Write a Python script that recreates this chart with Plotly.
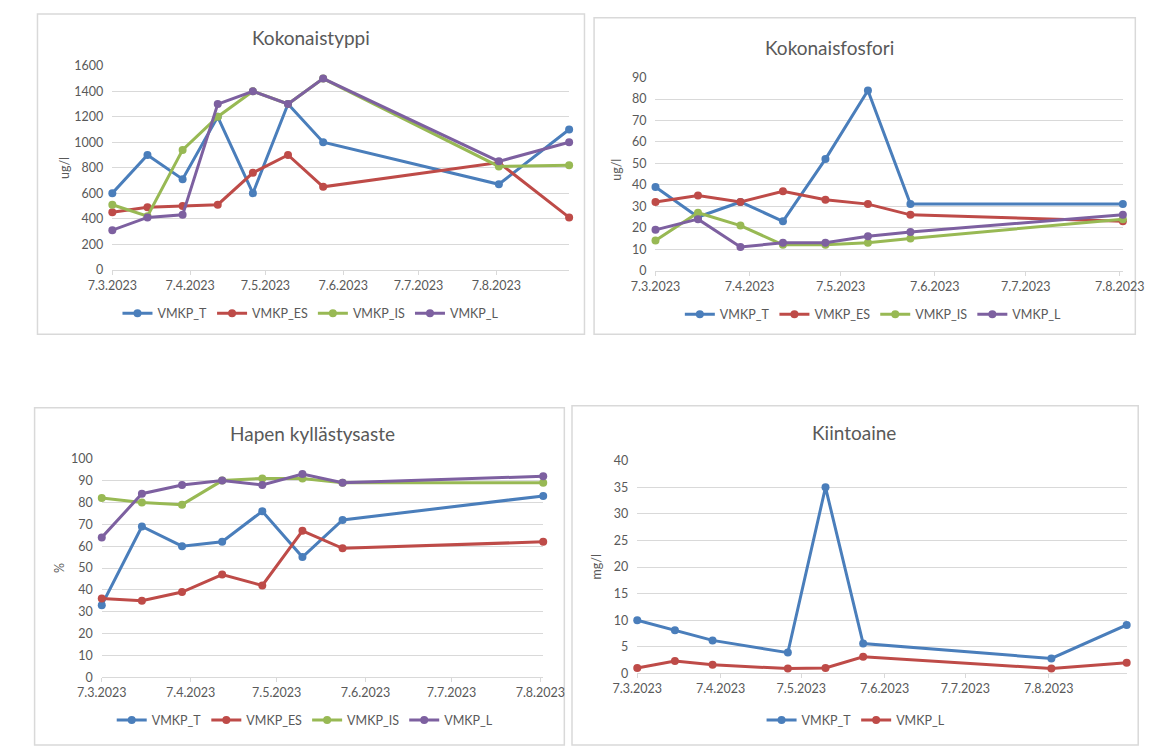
import plotly.graph_objects as go

W, H = 1165, 746

# ---- data -------------------------------------------------------------
dates_n = ["2023-03-07", "2023-03-21", "2023-04-04", "2023-04-18", "2023-05-02",
           "2023-05-16", "2023-05-30", "2023-08-08", "2023-09-05"]
dates_p = dates_n[:8]
dates_o2 = dates_n[:8]
dates_ss = ["2023-03-07", "2023-03-21", "2023-04-04", "2023-05-02",
            "2023-05-16", "2023-05-30", "2023-08-08", "2023-09-05"]

# Kokonaistyppi (ug/l)
n_T = [600, 900, 710, 1200, 600, 1300, 1000, 670, 1100]
n_ES = [450, 490, 500, 510, 760, 900, 650, 840, 410]
n_IS = [510, 420, 940, 1200, 1400, 1300, 1500, 810, 820]
n_L = [310, 410, 430, 1300, 1400, 1300, 1500, 850, 1000]

# Kokonaisfosfori (ug/l)
p_T = [39, 25, 32, 23, 52, 84, 31, 31]
p_ES = [32, 35, 32, 37, 33, 31, 26, 23]
p_IS = [14, 27, 21, 12, 12, 13, 15, 24]
p_L = [19, 24, 11, 13, 13, 16, 18, 26]

# Hapen kyllästysaste (%)
o_T = [33, 69, 60, 62, 76, 55, 72, 83]
o_ES = [36, 35, 39, 47, 42, 67, 59, 62]
o_IS = [82, 80, 79, 90, 91, 91, 89, 89]
o_L = [64, 84, 88, 90, 88, 93, 89, 92]

# Kiintoaine (mg/l)
s_T = [10, 8.1, 6.2, 3.9, 35, 5.6, 2.8, 9.1]
s_L = [1.0, 2.3, 1.6, 0.9, 1.0, 3.1, 0.9, 2.0]

tick_dates = ["2023-03-07", "2023-04-07", "2023-05-07", "2023-06-07",
              "2023-07-07", "2023-08-07"]
tick_text = ["7.3.2023", "7.4.2023", "7.5.2023", "7.6.2023", "7.7.2023", "7.8.2023"]

series_names = ["VMKP_T", "VMKP_ES", "VMKP_IS", "VMKP_L"]
colors = {"VMKP_T": "#4A7EBB", "VMKP_ES": "#BE4B48", "VMKP_IS": "#98B954", "VMKP_L": "#7D60A0"}

FONT = "Lato, Carlito, 'Liberation Sans', sans-serif"
TXT = "#595959"
GRID = "#D9D9D9"


def px(x):
    return x / W


def py(y):
    return 1 - y / H


fig = go.Figure()


def add_series(x, y, name, color, ax, legend):
    fig.add_trace(go.Scatter(
        x=x, y=y, name=name, mode="lines+markers",
        line=dict(color=color, width=3),
        marker=dict(color=color, size=8),
        cliponaxis=False,
        xaxis="x" + ax, yaxis="y" + ax, legend=legend,
    ))


# panel 1
for nm, vals in zip(series_names, [n_T, n_ES, n_IS, n_L]):
    add_series(dates_n, vals, nm, colors[nm], "", "legend")
# panel 2
for nm, vals in zip(series_names, [p_T, p_ES, p_IS, p_L]):
    add_series(dates_p, vals, nm, colors[nm], "2", "legend2")
# panel 3
for nm, vals in zip(series_names, [o_T, o_ES, o_IS, o_L]):
    add_series(dates_o2, vals, nm, colors[nm], "3", "legend3")
# panel 4
add_series(dates_ss, s_T, "VMKP_T", colors["VMKP_T"], "4", "legend4")
add_series(dates_ss, s_L, "VMKP_L", colors["VMKP_ES"], "4", "legend4")

# ---- axes -------------------------------------------------------------
panels = [
    # (suffix, x0, x1, ytop, ybottom, xrange, yrange, dtick)
    ("", 91, 567, 59, 267, ["2023-03-07", "2023-09-05"], [0, 1600], 200),
    ("2", 657, 1144, 71, 268, ["2023-03-07", "2023-08-08"], [0, 90], 10),
    ("3", 80, 540, 460, 683, ["2023-03-07", "2023-08-08"], [0, 100], 10),
    ("4", 638, 1148, 462, 679, ["2023-03-07", "2023-09-05"], [0, 40], 5),
]

layout = dict(
    width=W, height=H,
    margin=dict(l=0, r=0, t=0, b=0),
    paper_bgcolor="white", plot_bgcolor="rgba(0,0,0,0)",
    font=dict(family=FONT, color=TXT, size=12.5),
    showlegend=True,
)

for suf, x0, x1, yt, yb, xr, yr, dt in panels:
    xa = "xaxis" + suf
    ya = "yaxis" + suf
    layout[xa] = dict(
        domain=[px(x0), px(x1)], anchor="y" + suf, type="date", range=xr,
        tickmode="array", tickvals=tick_dates, ticktext=tick_text,
        showgrid=False, zeroline=False, showline=True, linecolor=GRID, linewidth=1,
        ticks="outside", ticklen=4, tickcolor=GRID,
        tickfont=dict(size=12.5, color=TXT, family=FONT),
        fixedrange=True,
    )
    layout[ya] = dict(
        domain=[py(yb), py(yt)], anchor="x" + suf, range=yr, dtick=dt,
        showgrid=True, gridcolor=GRID, gridwidth=1, zeroline=False,
        showline=False, ticks="", ticklabelstandoff=8,
        tickfont=dict(size=12.5, color=TXT, family=FONT),
        fixedrange=True,
    )

legend_common = dict(
    orientation="h", xanchor="center", yanchor="middle",
    font=dict(size=12.5, color=TXT, family=FONT),
    bgcolor="rgba(0,0,0,0)", itemwidth=30, tracegroupgap=0,
)
layout["legend"] = dict(legend_common, x=px(298), y=py(312))
layout["legend2"] = dict(legend_common, x=px(884), y=py(313))
layout["legend3"] = dict(legend_common, x=px(292), y=py(727))
layout["legend4"] = dict(legend_common, x=px(866), y=py(727))

# ---- chart frames -----------------------------------------------------
frames = [(13, 6, 583, 333), (593, 10, 1157, 333), (10, 408, 562, 752), (570, 406, 1160, 752)]
shapes = []
for x0, y0, x1, y1 in frames:
    shapes.append(dict(type="rect", xref="paper", yref="paper", layer="below",
                       x0=px(x0), x1=px(x1), y0=py(y1), y1=py(y0),
                       line=dict(color=GRID, width=1.5), fillcolor="white"))
layout["shapes"] = shapes

# ---- titles and axis labels -------------------------------------------
ann = []
titles = [("Kokonaistyppi", 298, 30), ("Kokonaisfosfori", 838, 40),
          ("Hapen kyllästysaste", 300, 434), ("Kiintoaine", 864, 433)]
for t, x, y in titles:
    ann.append(dict(text=t, x=px(x), y=py(y), xref="paper", yref="paper",
                    showarrow=False, xanchor="center", yanchor="middle",
                    font=dict(size=19, color=TXT, family=FONT)))
ylabels = [("ug/l", 41, 163), ("ug/l", 617, 165), ("%", 36, 572), ("mg/l", 596, 570)]
for t, x, y in ylabels:
    ann.append(dict(text=t, x=px(x), y=py(y), xref="paper", yref="paper",
                    showarrow=False, textangle=-90, xanchor="center", yanchor="middle",
                    font=dict(size=12.5, color=TXT, family=FONT)))
layout["annotations"] = ann

fig.update_layout(**layout)
fig.write_html("out.html")
